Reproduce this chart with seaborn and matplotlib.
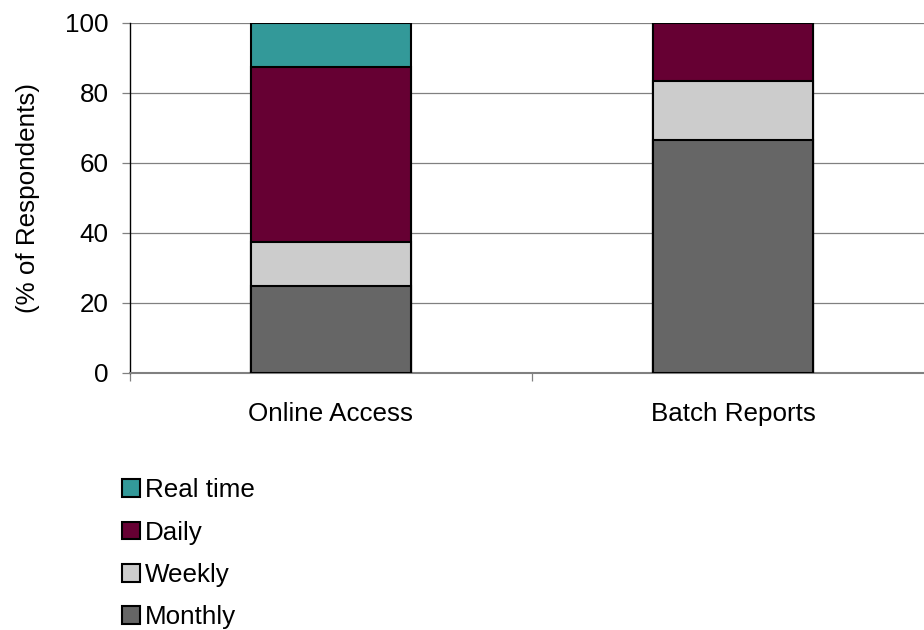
import matplotlib
matplotlib.use("Agg")
import matplotlib.pyplot as plt
from matplotlib.patches import Patch
import numpy as np
import pandas as pd
import seaborn as sns

categories = ["Online Access", "Batch Reports"]
series = ["Monthly", "Weekly", "Daily", "Real time"]
monthly = [25.0, 66.7]
weekly = [12.5, 16.7]
daily = [50.0, 16.6]
real_time = [12.5, 0.0]
colors = {"Monthly": "#666666", "Weekly": "#CCCCCC", "Daily": "#660033", "Real time": "#339999"}
yticks = [0, 20, 40, 60, 80, 100]

sns.set_theme(style="white")
plt.rcParams["font.family"] = ["Liberation Sans", "DejaVu Sans"]
plt.rcParams["text.color"] = "black"
plt.rcParams["xtick.color"] = "black"
plt.rcParams["ytick.color"] = "black"
plt.rcParams["axes.labelcolor"] = "black"

FS = 18.75

values = {"Monthly": monthly, "Weekly": weekly, "Daily": daily, "Real time": real_time}
df = pd.DataFrame({"category": categories})
running = np.zeros(len(categories))
for s in series:
    running = running + np.array(values[s])
    df[s] = running

fig = plt.figure(figsize=(9.24, 6.3), dpi=100)
ax = fig.add_axes([130 / 924, 1 - 373 / 630, 804 / 924, 350 / 630])

# stacked bars: draw cumulative totals from the top layer down
for s in reversed(series):
    sns.barplot(data=df, x="category", y=s, color=colors[s], width=0.4,
                edgecolor="black", linewidth=1.5, saturation=1, ax=ax, zorder=3)

ax.set_ylim(0, 100)
ax.set_xlim(-0.5, 1.5)
ax.set_yticks(yticks)
ax.set_yticklabels([str(v) for v in yticks], fontsize=FS)
ax.yaxis.grid(True, color="#808080", linewidth=0.9, zorder=0)
ax.set_axisbelow(True)
ax.set_xlabel("")
ax.set_ylabel("(% of Respondents)", fontsize=FS, labelpad=18)

ax.set_xticks([0, 1])
ax.set_xticklabels(categories, fontsize=FS)
ax.set_xticks([-0.5, 0.5, 1.5], minor=True)
ax.tick_params(axis="x", which="major", length=0, pad=21)
ax.tick_params(axis="x", which="minor", length=6, width=0.9, color="#808080", direction="out", bottom=True)
ax.tick_params(axis="y", which="major", length=6, width=0.9, color="#808080", direction="out", left=True, pad=9.5)

for side in ["top", "right"]:
    ax.spines[side].set_visible(False)
ax.spines["left"].set_color("black")
ax.spines["left"].set_linewidth(1.0)
ax.spines["bottom"].set_color("#808080")
ax.spines["bottom"].set_linewidth(1.5)

handles = [Patch(facecolor=colors[s], edgecolor="black", linewidth=1.5, label=s)
           for s in reversed(series)]
fig.legend(handles=handles, loc="upper left", bbox_to_anchor=(112 / 924, 1 - 468 / 630),
           frameon=False, fontsize=FS, handlelength=0.68, handleheight=0.68,
           handletextpad=0.2, labelspacing=0.70, borderaxespad=0)

fig.savefig("out.png", dpi=100)
